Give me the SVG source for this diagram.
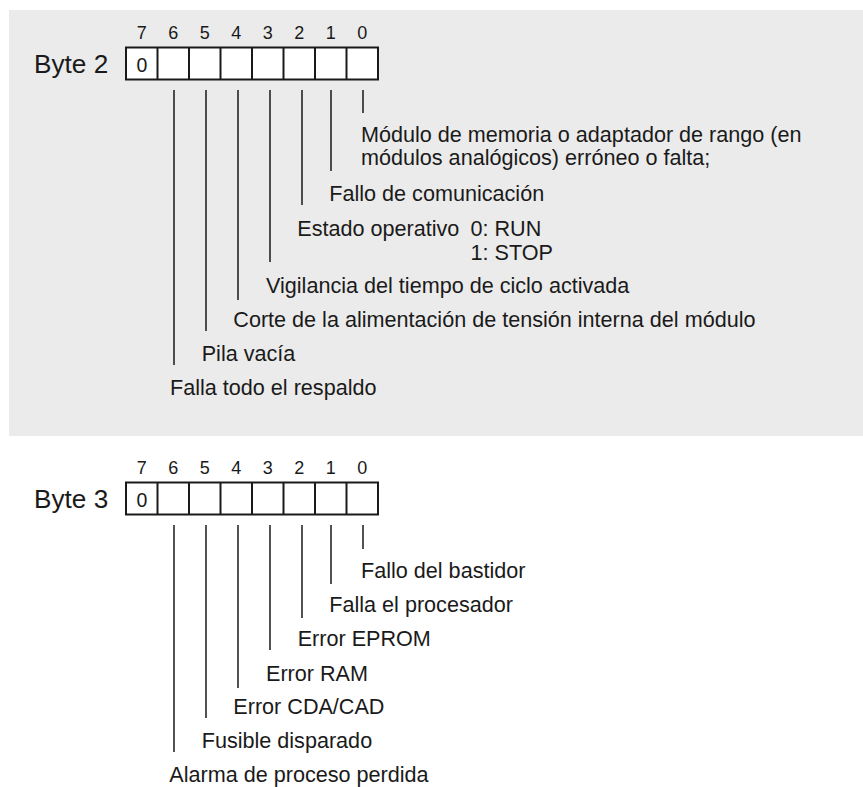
<svg xmlns="http://www.w3.org/2000/svg" width="863" height="787" viewBox="0 0 863 787">
<style>
text { font-family: "Liberation Sans", Arial, sans-serif; fill: #1a1a1a; }
.t { font-size: 21.6px; }
.lbl { font-size: 26.2px; }
.num { font-size: 18px; text-anchor: middle; }
.zero { font-size: 19.5px; text-anchor: middle; }
.box { fill: #ffffff; stroke: #1a1a1a; stroke-width: 2; }
.div { stroke: #1a1a1a; stroke-width: 2; }
.ln { stroke: #1a1a1a; stroke-width: 1.5; fill: none; }
</style>
<defs>
  <g id="bytebox">
    <rect class="box" x="126" y="47.5" width="252" height="32"/>
    <path class="div" d="M157.5 47.5V79.5M189 47.5V79.5M220.5 47.5V79.5M252 47.5V79.5M283.5 47.5V79.5M315 47.5V79.5M346.5 47.5V79.5"/>
    <text class="zero" x="142" y="71.5">0</text>
    <text class="num" x="141.8" y="38.5">7</text>
    <text class="num" x="173.3" y="38.5">6</text>
    <text class="num" x="204.8" y="38.5">5</text>
    <text class="num" x="236.3" y="38.5">4</text>
    <text class="num" x="267.8" y="38.5">3</text>
    <text class="num" x="299.3" y="38.5">2</text>
    <text class="num" x="330.8" y="38.5">1</text>
    <text class="num" x="362.3" y="38.5">0</text>
  </g>
</defs>
<rect id="panel" x="9" y="10" width="854" height="426" fill="#ebebeb"/>

<g id="byte2">
  <text class="lbl" x="34" y="73.3">Byte 2</text>
  <use href="#bytebox"/>
</g>
<g id="byte3">
  <text class="lbl" x="34" y="508.3">Byte 3</text>
  <use href="#bytebox" y="435"/>
</g>

<g id="connectors">
  <path class="ln" d="M363 90V113M331 90V171M302 90V205M270 90V262M238 90V300M206 90V331M174 90V365"/>
  <path class="ln" d="M363 525V549M331 525V584M302 525V618M270 525V650M238 525V688M206 525V718M174 525V752"/>
</g>

<g id="b2-bit0"><text class="t" x="361" y="141.5">Módulo de memoria o adaptador de rango (en</text><text class="t" x="361" y="165">módulos analógicos) erróneo o falta;</text></g>
<g id="b2-bit1"><text class="t" x="329.3" y="200.5">Fallo de comunicación</text></g>
<g id="b2-bit2"><text class="t" x="297.3" y="235.5">Estado operativo</text><text class="t" x="470.5" y="235.5">0: RUN</text><text class="t" x="470.5" y="260">1: STOP</text></g>
<g id="b2-bit3"><text class="t" x="266" y="293">Vigilancia del tiempo de ciclo activada</text></g>
<g id="b2-bit4"><text class="t" x="233.3" y="327">Corte de la alimentación de tensión interna del módulo</text></g>
<g id="b2-bit5"><text class="t" x="201.7" y="361">Pila vacía</text></g>
<g id="b2-bit6"><text class="t" x="170" y="394.5">Falla todo el respaldo</text></g>

<g id="b3-bit0"><text class="t" x="361" y="578">Fallo del bastidor</text></g>
<g id="b3-bit1"><text class="t" x="329.3" y="612">Falla el procesador</text></g>
<g id="b3-bit2"><text class="t" x="297.7" y="645.5">Error EPROM</text></g>
<g id="b3-bit3"><text class="t" x="266" y="680.5">Error RAM</text></g>
<g id="b3-bit4"><text class="t" x="233.3" y="714.3">Error CDA/CAD</text></g>
<g id="b3-bit5"><text class="t" x="201.7" y="748.3">Fusible disparado</text></g>
<g id="b3-bit6"><text class="t" x="169.3" y="781.5">Alarma de proceso perdida</text></g>
</svg>
